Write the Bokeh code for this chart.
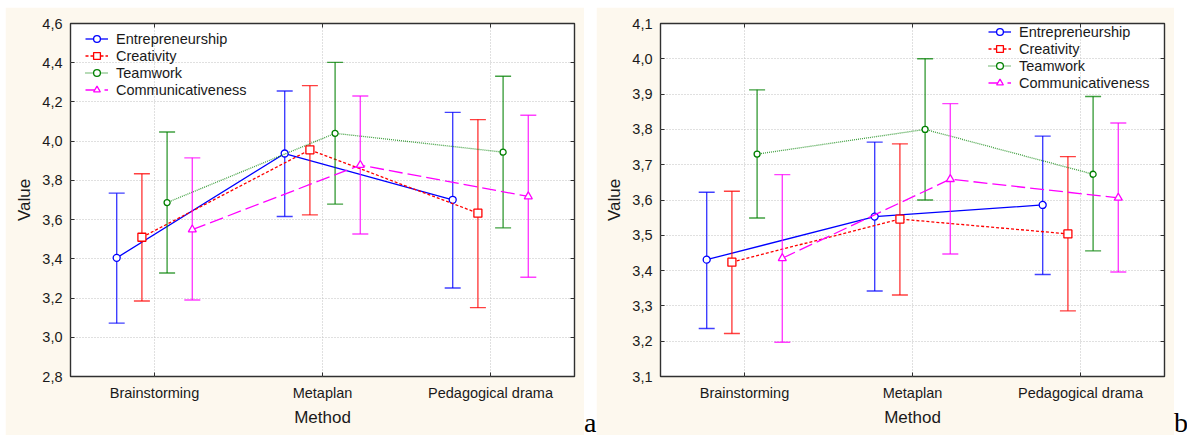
from bokeh.plotting import figure
from bokeh.models import (ColumnDataSource, CustomJSTickFormatter, FixedTicker, Legend,
                          LegendItem, CategoricalAxis, LinearAxis, Div)
from bokeh.transform import dodge
from bokeh.layouts import row
from bokeh.embed import file_html
from bokeh.resources import INLINE

methods = ["Brainstorming", "Metaplan", "Pedagogical drama"]
series = ["Entrepreneurship", "Creativity", "Teamwork", "Communicativeness"]

# Panel a
a_ticks = [2.8, 3.0, 3.2, 3.4, 3.6, 3.8, 4.0, 4.2, 4.4, 4.6]
a_ent_mean = [3.405, 3.937, 3.701]
a_ent_up = [3.735, 4.256, 4.147]
a_ent_lo = [3.072, 3.616, 3.251]
a_cre_mean = [3.510, 3.956, 3.633]
a_cre_up = [3.834, 4.283, 4.110]
a_cre_lo = [3.185, 3.624, 3.151]
a_tea_mean = [3.687, 4.040, 3.944]
a_tea_up = [4.047, 4.402, 4.331]
a_tea_lo = [3.328, 3.679, 3.558]
a_com_mean = [3.549, 3.878, 3.718]
a_com_up = [3.915, 4.230, 4.132]
a_com_lo = [3.190, 3.527, 3.306]

# Panel b
b_ticks = [3.1, 3.2, 3.3, 3.4, 3.5, 3.6, 3.7, 3.8, 3.9, 4.0, 4.1]
b_ent_mean = [3.431, 3.553, 3.586]
b_ent_up = [3.622, 3.764, 3.781]
b_ent_lo = [3.236, 3.342, 3.389]
b_cre_mean = [3.424, 3.546, 3.504]
b_cre_up = [3.625, 3.759, 3.723]
b_cre_lo = [3.222, 3.331, 3.286]
b_tea_mean = [3.730, 3.800, 3.673]
b_tea_up = [3.912, 4.000, 3.893]
b_tea_lo = [3.549, 3.600, 3.456]
b_com_mean = [3.435, 3.659, 3.606]
b_com_up = [3.672, 3.873, 3.818]
b_com_lo = [3.197, 3.447, 3.396]

FONT = "Liberation Sans"
CREAM = "#FDF8EE"
TXT = "#1a1a1a"

styles = [
    dict(color="#0000FF", dash="solid", marker="circle", size=7, offset=-0.225, alpha=1.0),
    dict(color="#FF0000", dash="3 2", marker="square", size=8, offset=-0.075, alpha=1.0),
    dict(color="#008000", dash="1 1", marker="circle", size=6, offset=0.075, alpha=0.75),
    dict(color="#FF00FF", dash="14 5", marker="triangle", size=8, offset=0.225, alpha=1.0),
]


def make_panel(ticks, data, left_border, legend_loc):
    p = figure(x_range=methods, y_range=(ticks[0], ticks[-1]),
               frame_width=504, frame_height=353,
               min_border_left=left_border, min_border_right=10,
               min_border_top=16, min_border_bottom=59,
               output_backend="svg", toolbar_location=None,
               background_fill_color="white", border_fill_color=CREAM)
    p.outline_line_color = "#303030"
    p.outline_line_width = 1.4

    fmt = CustomJSTickFormatter(code="return tick.toFixed(1).replace('.', ',');")
    p.yaxis.ticker = FixedTicker(ticks=ticks)
    p.yaxis.formatter = fmt
    for ax in p.yaxis + p.xaxis:
        ax.axis_line_color = None
        ax.major_tick_in = 4
        ax.major_tick_out = 0
        ax.minor_tick_line_color = None
        ax.major_tick_line_color = "#303030"
        ax.major_label_text_font = FONT
        ax.major_label_text_font_size = "14.5px"
        ax.major_label_text_color = TXT
        ax.axis_label_text_font = FONT
        ax.axis_label_text_font_size = "17px"
        ax.axis_label_text_font_style = "normal"
        ax.axis_label_text_color = TXT
    p.yaxis.major_label_standoff = 8
    p.yaxis.axis_label = "Value"
    p.yaxis.axis_label_standoff = 5
    p.xaxis.major_label_standoff = 8
    p.xaxis.axis_label = "Method"
    p.xaxis.axis_label_standoff = 4

    # mirrored inward ticks on the right and top sides of the frame
    rax = LinearAxis(ticker=FixedTicker(ticks=ticks), major_label_text_font_size="0px",
                     axis_line_color=None, major_tick_in=4, major_tick_out=0,
                     minor_tick_line_color=None, major_tick_line_color="#303030",
                     major_label_standoff=0)
    p.add_layout(rax, "right")
    tax = CategoricalAxis(major_label_text_font_size="0px", axis_line_color=None,
                          major_tick_in=4, major_tick_out=0,
                          major_tick_line_color="#303030", major_label_standoff=0)
    p.add_layout(tax, "above")

    p.xgrid.grid_line_color = "#c0c0c0"
    p.xgrid.grid_line_dash = "1 2"
    p.ygrid.grid_line_color = "#c0c0c0"
    p.ygrid.grid_line_dash = "1 2"
    p.ygrid.ticker = FixedTicker(ticks=ticks)

    items = []
    for name, st, (mean, up, lo) in zip(series, styles, data):
        src = ColumnDataSource(dict(m=methods, mean=mean, up=up, lo=lo))
        xd = dodge("m", st["offset"], range=p.x_range)
        p.segment(x0=xd, y0="lo", x1=xd, y1="up", source=src,
                  line_color=st["color"], line_width=1.4, line_alpha=0.75)
        p.scatter(x=xd, y="up", source=src, marker="dash", size=16,
                  line_color=st["color"], line_width=1.4, line_alpha=0.75)
        p.scatter(x=xd, y="lo", source=src, marker="dash", size=16,
                  line_color=st["color"], line_width=1.4, line_alpha=0.75)
        ln = p.line(x=xd, y="mean", source=src, line_color=st["color"],
                    line_width=1.3, line_dash=st["dash"], line_alpha=st["alpha"])
        sc = p.scatter(x=xd, y="mean", source=src, marker=st["marker"], size=st["size"],
                       line_color=st["color"], fill_color="white", line_width=1.3)
        items.append(LegendItem(label=name, renderers=[ln, sc]))

    leg = Legend(items=items, location=legend_loc, padding=0, margin=0, spacing=0,
                 glyph_width=23, glyph_height=17, label_height=17, label_standoff=8,
                 label_text_font=FONT, label_text_font_size="14.5px",
                 label_text_color=TXT, background_fill_alpha=0,
                 border_line_color=None)
    p.add_layout(leg)
    return p


data_a = [(a_ent_mean, a_ent_up, a_ent_lo), (a_cre_mean, a_cre_up, a_cre_lo),
          (a_tea_mean, a_tea_up, a_tea_lo), (a_com_mean, a_com_up, a_com_lo)]
data_b = [(b_ent_mean, b_ent_up, b_ent_lo), (b_cre_mean, b_cre_up, b_cre_lo),
          (b_tea_mean, b_tea_up, b_tea_lo), (b_com_mean, b_com_up, b_com_lo)]

pa = make_panel(a_ticks, data_a, 65, (15, 278))
pa.margin = (7, 0, 1, 5)
pb = make_panel(b_ticks, data_b, 64, (328, 285))
pb.margin = (7, 0, 1, 0)


def letter(ch, w):
    return Div(text=('<div style="margin-top:409px; font-family:\'Liberation Serif\';'
                     'font-size:28px; line-height:28px; color:#000;">%s</div>' % ch),
               width=w, height=436, margin=(0, 0, 0, 0))


layout = row(pa, letter("a", 12), pb, letter("b", 13), spacing=0)

open("out.html", "w").write(file_html(layout, INLINE))
